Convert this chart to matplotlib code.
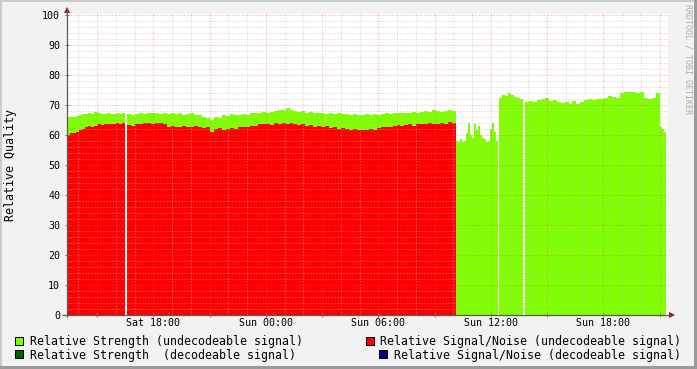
import numpy as np
import matplotlib
matplotlib.use("Agg")
import matplotlib.pyplot as plt
from matplotlib.patches import Rectangle, Polygon
from matplotlib.ticker import MultipleLocator, FixedLocator

# ---------------- data (time in hours since Sat 00:00) ----------------
view_start_h = 13.387
view_end_h = 45.44

seg_a = (13.387, 16.48)
seg_b = (16.587, 34.133)
seg_c = (34.133, 36.347)
seg_d = (36.427, 37.707)
seg_e = (37.813, 44.987)
seg_f = (44.987, 45.307)

strength_a = [66.0, 66.0, 66.0, 66.2, 66.5, 67.0, 67.0, 67.2, 67.0, 67.8,
              67.5, 67.0, 67.0, 67.2, 67.0, 67.0, 67.3, 67.0, 67.2]
snr_a = [60.0, 60.5, 60.8, 61.0, 61.5, 62.0, 62.5, 63.0, 62.8, 63.0,
         63.5, 63.2, 63.5, 63.8, 63.5, 63.6, 64.0, 63.5, 64.0]

strength_b = [67.0, 66.8, 67.0, 67.2, 67.0, 67.5, 67.3, 67.5, 67.0,
              67.2, 67.0, 67.3, 67.0, 67.2, 66.8, 67.0, 67.2, 66.8, 66.5,
              66.0, 65.5, 65.0, 66.0, 65.8, 66.5, 66.2, 67.0, 66.5, 66.8,
              67.0, 66.8, 67.2, 67.5, 67.5, 67.8, 67.5, 67.8, 68.0, 68.2,
              68.5, 69.0, 68.3, 68.0, 67.8, 68.0, 67.5, 67.8, 67.5, 67.2,
              67.5, 67.0, 67.3, 67.0, 67.2, 67.0, 67.0, 66.8, 67.0, 66.8,
              66.8, 67.0, 66.5, 67.0, 66.8, 67.0, 67.2, 67.0, 67.5, 67.3,
              67.5, 67.3, 67.5, 67.8, 67.5, 67.8, 68.0, 67.8, 68.2, 68.0,
              67.8, 68.0, 68.2, 68.0]
snr_b = [63.3, 63.0, 63.5, 63.8, 64.0, 64.0, 63.8, 64.0, 64.0,
         63.5, 62.8, 63.0, 62.5, 62.8, 63.0, 62.7, 62.5, 63.0, 62.8,
         62.3, 62.5, 61.0, 62.0, 62.2, 61.8, 62.0, 62.3, 62.0, 62.5,
         62.8, 62.5, 63.0, 63.0, 63.5, 63.8, 63.5, 63.3, 64.0, 63.8,
         64.0, 63.8, 64.0, 63.5, 63.3, 63.5, 63.0, 63.3, 62.8, 63.0,
         62.5, 63.0, 62.3, 62.5, 62.0, 62.3, 62.0, 61.8, 62.0, 61.5,
         61.8, 61.5, 62.0, 61.8, 62.3, 62.5, 62.8, 62.5, 63.0, 63.3,
         63.0, 63.3, 63.5, 63.0, 63.5, 63.8, 63.5, 64.0, 63.8, 63.5,
         64.0, 63.8, 64.2, 64.0]

strength_c = [58.0, 57.5, 58.5, 57.8, 58.0, 60.5, 64.0, 60.0, 59.0, 63.5,
              61.5, 63.0, 60.0, 59.0, 58.5, 57.5, 58.0, 62.0, 64.0, 61.0, 58.0]
strength_d = [72.5, 73.5, 73.0, 74.0, 73.5, 72.8, 72.5, 72.0]
strength_e = [71.0, 71.5, 71.0, 71.8, 72.0, 72.5, 71.5, 71.8, 71.0,
              70.8, 71.0, 70.5, 71.2, 70.5, 71.0, 71.8, 72.0, 71.8, 72.0,
              72.0, 72.2, 73.0, 72.8, 72.5, 74.0, 74.5, 74.5, 74.3, 74.0,
              74.2, 72.2, 72.0, 72.3, 74.0]
strength_f = [62.5, 62.0, 61.0]

x_major_hours = [15, 18, 21, 24, 27, 30, 33, 36, 39, 42, 45]
x_tick_labels = ["", "Sat 18:00", "", "Sun 00:00", "", "Sun 06:00", "",
                 "Sun 12:00", "", "Sun 18:00", ""]
y_ticks = [0, 10, 20, 30, 40, 50, 60, 70, 80, 90, 100]

legend_labels = ["Relative Strength (undecodeable signal)",
                 "Relative Signal/Noise (undecodeable signal)",
                 "Relative Strength  (decodeable signal)",
                 "Relative Signal/Noise (decodeable signal)"]

# ---------------- style ----------------
GREEN = "#7FFF00"
RED = "#FF0000"
DGREEN = "#006400"
NAVY = "#000088"
BG = "#F2F2F2"
MONO = "DejaVu Sans Mono"

W, H = 697, 369
fig = plt.figure(figsize=(W / 100, H / 100), dpi=100, facecolor=BG)

left, right, top, bottom = 67, 668, 14, 315
ax = fig.add_axes([left / W, (H - bottom) / H, (right - left) / W, (bottom - top) / H])
ax.set_facecolor("white")
ax.set_xlim(view_start_h, view_end_h)
ax.set_ylim(0, 100 + 1.0 / 3.0)
for s in ax.spines.values():
    s.set_visible(False)


def fill_segment(span, values, color):
    t0, t1 = span
    n = len(values)
    t = np.linspace(t0, t1, n + 1)
    v = np.append(np.asarray(values, float), values[-1])
    ax.fill_between(t, 0, v, step="post", color=color, linewidth=0,
                    antialiased=False, zorder=1)


fill_segment(seg_a, strength_a, GREEN)
fill_segment(seg_b, strength_b, GREEN)
fill_segment(seg_c, strength_c, GREEN)
fill_segment(seg_d, strength_d, GREEN)
fill_segment(seg_e, strength_e, GREEN)
fill_segment(seg_f, strength_f, GREEN)
fill_segment(seg_a, snr_a, RED)
fill_segment(seg_b, snr_b, RED)

ax.xaxis.set_major_locator(FixedLocator(x_major_hours))
ax.set_xticklabels(x_tick_labels)
ax.xaxis.set_minor_locator(MultipleLocator(1))
ax.yaxis.set_major_locator(FixedLocator(y_ticks))
ax.yaxis.set_minor_locator(MultipleLocator(2))
ax.set_axisbelow(False)
ax.grid(which="minor", color="#B8B8B8", alpha=0.7, linestyle=(0, (1, 2)), linewidth=0.72)
ax.grid(which="major", color="#E05050", alpha=0.55, linestyle=(0, (1, 2)), linewidth=0.72)
ax.tick_params(axis="both", which="minor", length=0)
ax.tick_params(axis="y", which="major", direction="inout", length=3, width=0.72,
               color="#777777", pad=3.4, labelsize=7.2)
ax.tick_params(axis="x", which="major", direction="inout", length=3, width=0.72,
               color="#B07070", pad=1.0, labelsize=7.2)
for lab in ax.get_xticklabels() + ax.get_yticklabels():
    lab.set_fontfamily(MONO)

# ---------------- overlay (pixel coordinates) ----------------
ov = fig.add_axes([0, 0, 1, 1], zorder=5)
ov.set_xlim(0, W)
ov.set_ylim(H, 0)
ov.axis("off")
ov.patch.set_alpha(0)

# frame shading
ov.add_patch(Rectangle((0, 0), W, 2, color="#CBCBCB", lw=0))
ov.add_patch(Rectangle((0, 0), 2, H, color="#CBCBCB", lw=0))
ov.add_patch(Rectangle((0, H - 3), W, 3, color="#9A9A9A", lw=0))
ov.add_patch(Rectangle((W - 3, 0), 3, H, color="#9A9A9A", lw=0))

# axes lines and arrows
ov.plot([67, 67], [bottom + 2, 10], color="#5A5A5A", lw=0.9, solid_capstyle="butt")
ov.plot([62, 670], [bottom, bottom], color="#5A5A5A", lw=0.9, solid_capstyle="butt")
ARROW = "#9A1A1A"
ov.add_patch(Polygon([[64, 13], [70, 13], [67, 7]], closed=True, color=ARROW, lw=0))
ov.add_patch(Polygon([[669, 312], [669, 318], [675, 315]], closed=True, color=ARROW, lw=0))

# y label
ov.text(11, 165, "Relative Quality", rotation=90, ha="center", va="center",
        fontsize=8.35, family=MONO, color="black")

# watermark
ov.text(688, 4, "RRDTOOL / TOBI OETIKER", rotation=270, ha="center", va="top",
        fontsize=6, family=MONO, color="#AAAAAA")

# legend
legend_items = [
    (15, 337, 30, 341, GREEN, legend_labels[0]),
    (366, 337, 380, 341, RED, legend_labels[1]),
    (15, 350, 30, 355, DGREEN, legend_labels[2]),
    (379, 350, 394, 355, NAVY, legend_labels[3]),
]
for sx, sy, tx, ty, col, lab in legend_items:
    ov.add_patch(Rectangle((sx, sy), 8, 8, facecolor=col, edgecolor="black", lw=0.72))
    ov.text(tx, ty, lab, ha="left", va="center", fontsize=8.35, family=MONO, color="black")

fig.savefig("out.png", dpi=100, facecolor=BG)
